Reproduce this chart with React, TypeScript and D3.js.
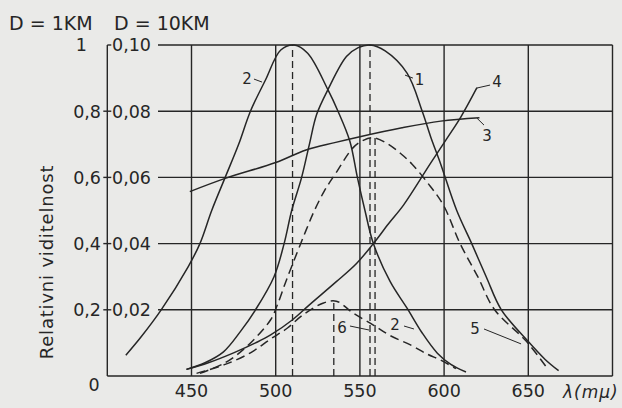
import React from 'react';
import * as d3 from 'd3';

// wavelength (nm) / relative visibility
const curve1Nm = [447, 458, 469, 479, 488, 499, 505, 509.5, 515.4, 520, 524.3, 531, 542, 549, 556, 565, 578, 587, 592, 598, 607.5, 616.4, 625, 634, 650, 660, 668];
const curve1Val = [0.02, 0.04, 0.073, 0.134, 0.2, 0.3, 0.4, 0.5, 0.6, 0.7, 0.79, 0.865, 0.965, 0.992, 1.0, 0.982, 0.915, 0.8, 0.723, 0.64, 0.5, 0.4, 0.3, 0.2, 0.104, 0.05, 0.016];

const curve2Nm = [411, 420, 432, 448, 455, 462, 470, 478, 485, 494, 503, 511, 519, 531, 537, 544, 548.5, 553, 558, 568, 578, 587, 596, 604, 613];
const curve2Val = [0.063, 0.118, 0.2, 0.33, 0.4, 0.5, 0.6, 0.7, 0.8, 0.895, 0.985, 1.0, 0.975, 0.865, 0.8, 0.71, 0.6, 0.5, 0.4, 0.285, 0.205, 0.13, 0.069, 0.035, 0.012];

const curve3Nm = [449, 470, 500, 518, 535, 550, 575, 598, 621];
const curve3Val = [0.557, 0.597, 0.645, 0.683, 0.705, 0.723, 0.75, 0.77, 0.78];

const curve4Nm = [447, 460, 475, 488, 497, 510, 520, 536, 548, 558, 567, 576, 592, 602, 610, 619.5];
const curve4Val = [0.02, 0.04, 0.07, 0.1, 0.124, 0.17, 0.215, 0.285, 0.34, 0.4, 0.46, 0.517, 0.643, 0.72, 0.783, 0.871];

const curve5Nm = [455, 470, 483, 497, 501, 506, 512.5, 518, 523, 529, 536, 546, 552, 558, 566, 574, 581, 590, 599.5, 609.5, 620, 630, 649, 662];
const curve5Val = [0.008, 0.04, 0.09, 0.17, 0.215, 0.285, 0.37, 0.44, 0.5, 0.56, 0.615, 0.69, 0.712, 0.72, 0.703, 0.673, 0.64, 0.585, 0.517, 0.4, 0.3, 0.2, 0.104, 0.018];

const curve6Nm = [453, 470, 485, 497, 507, 516, 528, 536, 546, 558, 568, 580, 590, 598, 607];
const curve6Val = [0.008, 0.035, 0.07, 0.112, 0.145, 0.184, 0.22, 0.226, 0.19, 0.154, 0.122, 0.094, 0.066, 0.048, 0.022];

// dashed verticals: wavelength, height
const dropNm = [510, 534.5, 556, 559];
const dropVal = [1.0, 0.226, 1.0, 0.72];

const yTickValues = [1, 0.8, 0.6, 0.4, 0.2];
const yLabels1km = ['1', '0,8', '0,6', '0,4', '0,2'];
const yLabels10km = ['0,10', '0,08', '0,06', '0,04', '0,02'];
const xTicks = [450, 500, 550, 600, 650];

// curve labels: text, label pos (nm, val), leader from / to (nm, val)
const curveLabels = ['1', '2', '3', '4', '5', '6', '2'];
const labelNm = [585.4, 483, 625.5, 631.4, 618.3, 539.4, 570.8];
const labelVal = [0.894, 0.9, 0.725, 0.888, 0.142, 0.145, 0.154];
const leaderFromNm = [576.8, 487.1, 619.5, 619.5, 623.7, 544.1, 576.2];
const leaderFromVal = [0.909, 0.897, 0.779, 0.87, 0.142, 0.151, 0.151];
const leaderToNm = [581.5, 491.9, 623.7, 627.3, 645.7, 555.4, 582.1];
const leaderToVal = [0.9, 0.888, 0.758, 0.879, 0.097, 0.139, 0.142];

const W = 622;
const H = 408;
const ink = '#262626';
const font = '"DejaVu Sans", sans-serif';

const x = d3.scaleLinear().domain([400, 700]).range([107.3, 612.5]);
const y = d3.scaleLinear().domain([0, 1]).range([376, 45]);

const line = d3
  .line<[number, number]>()
  .x((d) => x(d[0]))
  .y((d) => y(d[1]))
  .curve(d3.curveCatmullRom.alpha(0.5));

const zip = (a: number[], b: number[]) => a.map((v, i) => [v, b[i]] as [number, number]);

const curves = [
  { pts: zip(curve1Nm, curve1Val), dash: null },
  { pts: zip(curve2Nm, curve2Val), dash: null },
  { pts: zip(curve3Nm, curve3Val), dash: null },
  { pts: zip(curve4Nm, curve4Val), dash: null },
  { pts: zip(curve5Nm, curve5Val), dash: '9,5' },
  { pts: zip(curve6Nm, curve6Val), dash: '9,5' },
];

export default function App() {
  const x0 = x(400);
  const x1 = x(700);
  const gridStart = 158;

  return (
    <svg width={W} height={H} style={{ position: 'absolute', left: 0, top: 0 }}>
      <rect width={W} height={H} fill="#eaeae8" />

      {/* header */}
      <text x={9} y={30} fontFamily={font} fontSize={19} fill={ink}>D = 1KM</text>
      <text x={114} y={30} fontFamily={font} fontSize={19} fill={ink}>D = 10KM</text>

      {/* frame + grid */}
      <g stroke={ink} strokeWidth={1.4} fill="none">
        <line x1={x0} y1={y(1)} x2={x0} y2={y(0)} />
        <line x1={x0} y1={y(1)} x2={x0 + 4} y2={y(1)} />
        <line x1={x0} y1={y(0)} x2={x1} y2={y(0)} />
        <line x1={x1} y1={y(1)} x2={x1} y2={y(0)} />
        {yTickValues.map((v) => (
          <line key={'h' + v} x1={gridStart} y1={y(v)} x2={x1} y2={y(v)} />
        ))}
        {yTickValues.filter((v) => v < 1).map((v) => (
          <line key={'t' + v} x1={x0 - 4} y1={y(v)} x2={x0 + 4} y2={y(v)} />
        ))}
        {xTicks.map((t) => (
          <line key={'v' + t} x1={x(t)} y1={y(1)} x2={x(t)} y2={y(0)} />
        ))}
      </g>

      {/* y tick labels */}
      {yTickValues.map((v, i) => (
        <g key={'yl' + v} fontFamily={font} fontSize={17.5} fill={ink}>
          <text x={i === 0 ? 87 : 101} y={y(v)} dy="0.36em" textAnchor="end">{yLabels1km[i]}</text>
          <text x={112} y={y(v)} dy="0.36em">{yLabels10km[i]}</text>
        </g>
      ))}
      <text x={94} y={391} textAnchor="middle" fontFamily={font} fontSize={17.5} fill={ink}>0</text>

      {/* x tick labels */}
      {xTicks.map((t) => (
        <text key={'xl' + t} x={x(t)} y={397} textAnchor="middle" fontFamily={font} fontSize={17.5} fill={ink}>
          {t}
        </text>
      ))}
      <text x={563} y={398} fontFamily={font} fontSize={17} fontStyle="italic" letterSpacing={1} fill={ink}>λ(mμ)</text>

      {/* y title */}
      <text
        transform={`translate(53,262) rotate(-90)`}
        textAnchor="middle"
        fontFamily={font}
        fontSize={18}
        letterSpacing={0.8}
        fill={ink}
      >
        Relativni viditelnost
      </text>

      {/* dashed verticals */}
      <g stroke={ink} strokeWidth={1.3} strokeDasharray="7,4">
        {dropNm.map((n, i) => (
          <line key={'d' + i} x1={x(n)} y1={y(0)} x2={x(n)} y2={y(dropVal[i])} />
        ))}
      </g>

      {/* curves */}
      {curves.map((c, i) => (
        <path
          key={'c' + i}
          d={line(c.pts) || ''}
          fill="none"
          stroke={ink}
          strokeWidth={1.5}
          strokeDasharray={c.dash || undefined}
        />
      ))}

      {/* curve labels */}
      {curveLabels.map((l, i) => (
        <g key={'lab' + i}>
          <line
            x1={x(leaderFromNm[i])}
            y1={y(leaderFromVal[i])}
            x2={x(leaderToNm[i])}
            y2={y(leaderToVal[i])}
            stroke={ink}
            strokeWidth={1}
          />
          <text x={x(labelNm[i])} y={y(labelVal[i])} dy="0.36em" textAnchor="middle" fontFamily={font} fontSize={15} fill={ink}>
            {l}
          </text>
        </g>
      ))}
    </svg>
  );
}
